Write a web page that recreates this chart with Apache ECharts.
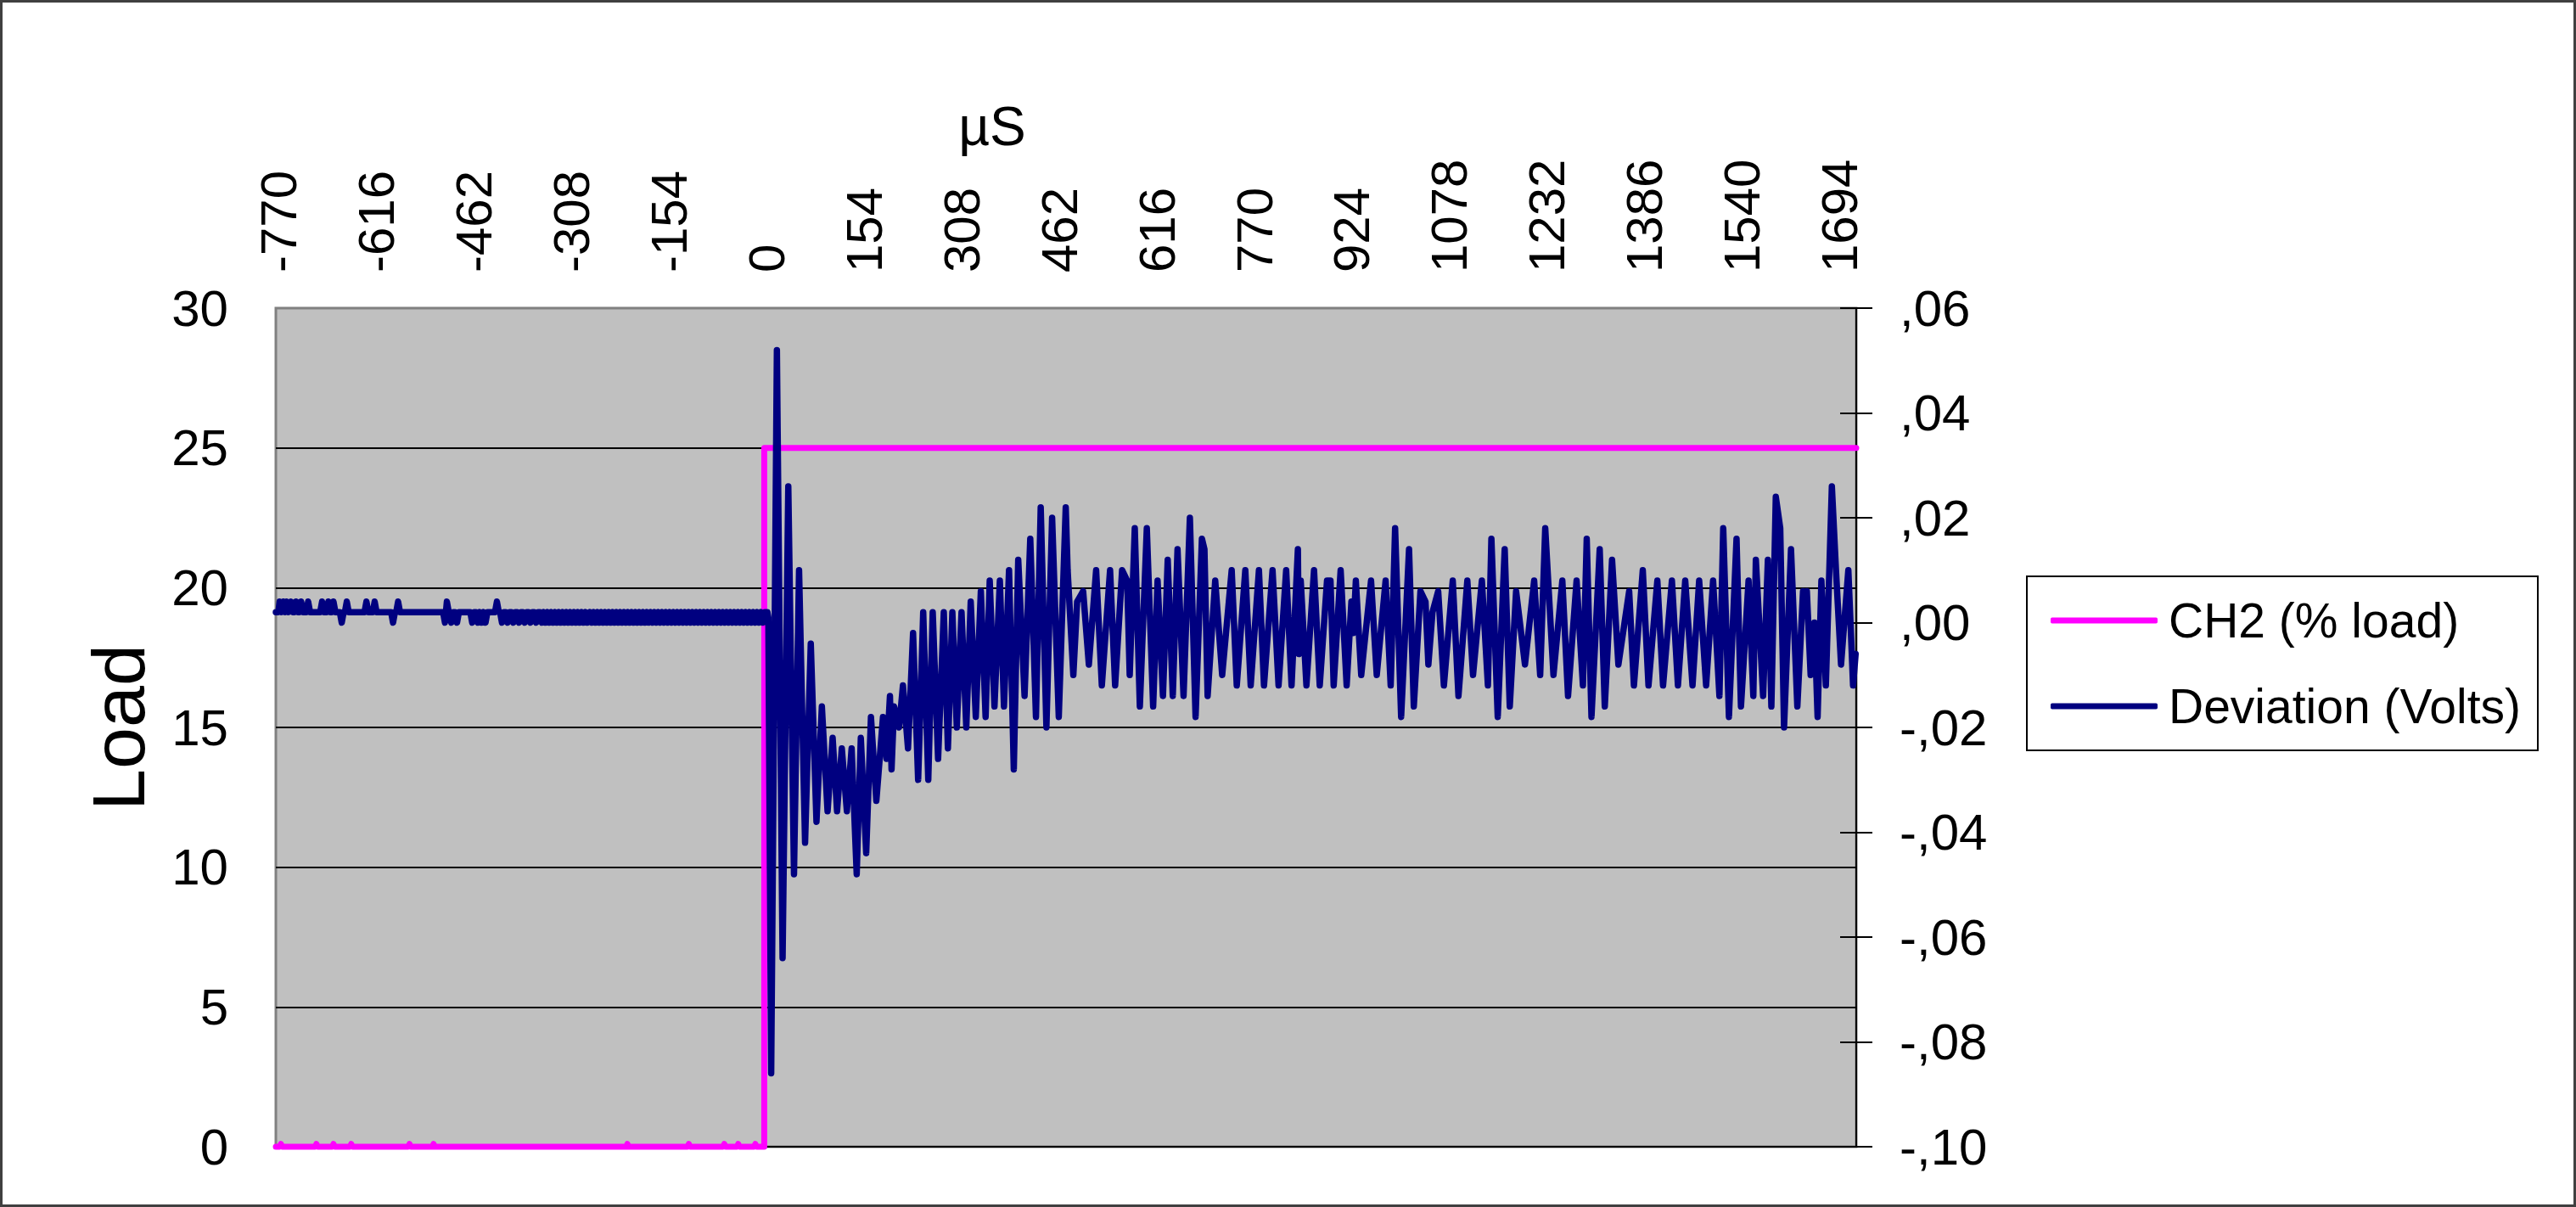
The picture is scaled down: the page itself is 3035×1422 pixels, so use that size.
<!DOCTYPE html>
<html>
<head>
<meta charset="utf-8">
<script src="https://cdn.jsdelivr.net/npm/echarts@6/dist/echarts.min.js"></script>
<style>
html,body{margin:0;padding:0;background:#fff;}
#chart{width:3035px;height:1422px;}
</style>
</head>
<body>
<div id="chart"></div>
<script>
// ---------- data ----------
// time axis in microseconds
const xTickValues = [-770,-616,-462,-308,-154,0,154,308,462,616,770,924,1078,1232,1386,1540,1694];
const voltLabels = ['-,10','-,08','-,06','-,04','-,02',',00',',02',',04',',06'];

// CH2 (% load): [time µs, load]
const ch2Load = [
  [-775,0],[-769,0],[-767,0.1],[-765,0],[-713,0],[-711,0.1],[-709,0],[-686,0],[-684,0.1],[-682,0],
  [-658,0],[-656,0.1],[-654,0],[-566,0],[-564,0.1],[-562,0],[-528,0],[-526,0.1],[-524,0],
  [-222,0],[-220,0.1],[-218,0],[-125,0],[-123,0.1],[-121,0],[-69,0],[-67,0.1],[-65,0],
  [-47,0],[-45,0.1],[-43,0],[-20,0],[-18,0.1],[-16,0],[-4,0],[-4,25],[1720,25]
];

// Deviation (Volts): [time µs, volts]
const deviationPre = [
  [-775,0.002],[-771,0.002],[-769,0.004],[-766,0.002],[-763,0.004],[-760,0.002],[-758,0.004],[-755,0.002],
  [-751,0.004],[-748,0.002],[-746,0.002],[-743,0.004],[-740,0.002],[-738,0.002],[-735,0.004],[-732,0.002],
  [-727,0.002],[-724,0.004],[-721,0.002],[-705,0.002],[-702,0.004],[-699,0.002],[-695,0.002],[-692,0.004],
  [-689,0.002],[-687,0.002],[-684,0.004],[-681,0.002],[-674,0.002],[-671,0],[-668,0.002],[-666,0.002],
  [-663,0.004],[-660,0.002],[-635,0.002],[-632,0.004],[-629,0.002],[-622,0.002],[-619,0.004],[-616,0.002],
  [-593,0.002],[-590,0],[-587,0.002],[-585,0.002],[-582,0.004],[-579,0.002],[-511,0.002],[-508,0],
  [-505,0.004],[-502,0.002],[-501,0.002],[-498,0],[-495,0.002],[-492,0.002],[-489,0],[-486,0.002],
  [-468,0.002],[-465,0],[-462,0.002],[-459,0.002],[-456,0],[-453,0.002],[-450,0],[-447,0.002],
  [-444,0],[-441,0.002],[-429,0.002],[-426,0.004],[-423,0.002],[-421,0.002],[-418,0],[-415,0.002],
  [-412,0.002],[-409,0],[-406,0.002],[-403,0.002],[-400,0],[-397,0.002],[-394,0.002],[-391,0],
  [-388,0.002],[-385,0.002],[-382,0],[-379,0.002],[-376,0.002],[-373,0],[-370,0.002],[-367,0.002],
  [-364,0],[-361,0.002],[-358,0.002],[-355,0],[-352,0.002],[-349,0],[-346,0.002],[-343,0],
  [-340,0.002],[-337,0],[-334,0.002],[-331,0],[-328,0.002],[-325,0],[-322,0.002],[-319,0],
  [-316,0.002],[-313,0],[-310,0.002],[-307,0],[-304,0.002],[-301,0],[-298,0.002],[-295,0],
  [-292,0.002],[-289,0],[-286,0.002],[-283,0]
];
const deviationDense = [
  [-279,0.002],[-276,0],[-273,0.002],[-270,0],[-267,0.002],[-264,0],[-261,0.002],[-258,0],
  [-255,0.002],[-252,0],[-249,0.002],[-246,0],[-243,0.002],[-240,0],[-237,0.002],[-234,0],
  [-231,0.002],[-228,0],[-225,0.002],[-222,0],[-219,0.002],[-216,0],[-213,0.002],[-210,0],
  [-207,0.002],[-204,0],[-201,0.002],[-198,0],[-195,0.002],[-192,0],[-189,0.002],[-186,0],
  [-183,0.002],[-180,0],[-177,0.002],[-174,0],[-171,0.002],[-168,0],[-165,0.002],[-162,0],
  [-159,0.002],[-156,0],[-153,0.002],[-150,0],[-147,0.002],[-144,0],[-141,0.002],[-138,0],
  [-135,0.002],[-132,0],[-129,0.002],[-126,0],[-123,0.002],[-120,0],[-117,0.002],[-114,0],
  [-111,0.002],[-108,0],[-105,0.002],[-102,0],[-99,0.002],[-96,0],[-93,0.002],[-90,0],
  [-87,0.002],[-84,0],[-81,0.002],[-78,0],[-75,0.002],[-72,0],[-69,0.002],[-66,0],
  [-63,0.002],[-60,0],[-57,0.002],[-54,0],[-51,0.002],[-48,0],[-45,0.002],[-42,0],
  [-39,0.002],[-36,0],[-33,0.002],[-30,0],[-27,0.002],[-24,0],[-21,0.002],[-18,0],
  [-15,0.002],[-12,0],[-9,0.002],[-6,0],[-3,0.002],[0,0.002]
];
const deviationPost = [
  [1,0.002],[2.5,0.001],[7,-0.086],[16,0.052],[25,-0.064],[34,0.026],[43,-0.048],[51,0.010],
  [60.5,-0.042],[69.5,-0.004],[78.5,-0.038],[87,-0.016],[96,-0.036],[104,-0.022],[111,-0.036],[118.5,-0.024],
  [126.5,-0.036],[134,-0.024],[142,-0.048],[148.5,-0.022],[157,-0.044],[164.5,-0.018],[173,-0.034],[183.5,-0.018],
  [189,-0.026],[194.5,-0.014],[197,-0.028],[201,-0.016],[209,-0.020],[215,-0.012],[223,-0.024],[231,-0.002],
  [239,-0.030],[247,0.002],[255,-0.030],[262,0.002],[270.5,-0.026],[279.5,0.002],[286,-0.024],[293,0.002],
  [300,-0.020],[307.5,0.002],[315,-0.020],[322,0.004],[330,-0.018],[338,0.006],[345.5,-0.018],[352,0.008],
  [359.5,-0.016],[368,0.008],[374.5,-0.016],[382.5,0.010],[390,-0.028],[397,0.012],[407,-0.014],[416,0.016],
  [425,-0.018],[432.5,0.022],[441.5,-0.020],[450.5,0.020],[461,-0.018],[472,0.022],[475,0.010],[484,-0.010],
  [490,0.004],[499.5,0.006],[508.5,-0.008],[520,0.010],[529,-0.012],[542,0.010],[550,-0.012],[561,0.010],
  [569,0.008],[573,-0.010],[581,0.018],[589,-0.016],[600,0.018],[610,-0.016],[617,0.008],[625.5,-0.014],
  [633,0.012],[641,-0.014],[648.5,0.014],[658,-0.014],[668,0.020],[677,-0.018],[687,0.016],[691,0.014],
  [696,-0.014],[708,0.008],[719,-0.010],[734,0.010],[742,-0.012],[755.5,0.010],[764,-0.012],[777,0.010],
  [785,-0.012],[798.5,0.010],[808,-0.012],[820,0.010],[828.5,-0.012],[838.5,0.014],[840,-0.006],[843,0.008],
  [852,-0.012],[864,0.010],[873,-0.012],[884.5,0.008],[890,0.008],[895,-0.012],[906,0.010],[915.5,-0.012],
  [923,0.004],[926,-0.002],[930,0.008],[938.5,-0.010],[954,0.008],[963,-0.010],[977,0.008],[985,-0.012],
  [992,0.018],[1001.5,-0.018],[1014,0.014],[1021.5,-0.016],[1032,0.006],[1040,0.004],[1044.5,-0.008],[1051,0.002],
  [1060,0.006],[1069,-0.012],[1083,0.008],[1092,-0.014],[1106,0.008],[1115,-0.010],[1129,0.008],[1138.5,-0.012],
  [1144,0.016],[1154,-0.018],[1165,0.014],[1173,-0.016],[1183,0.006],[1197,-0.008],[1211.5,0.008],[1221,-0.010],
  [1229,0.018],[1242,-0.010],[1256,0.008],[1265,-0.014],[1278.5,0.008],[1288.5,-0.012],[1294.5,0.016],[1302,-0.018],
  [1315,0.014],[1323,-0.016],[1334.5,0.012],[1344.5,-0.008],[1361.5,0.006],[1369,-0.012],[1383,0.010],[1392,-0.012],
  [1406,0.008],[1415,-0.012],[1429,0.008],[1438.5,-0.012],[1450,0.008],[1461.5,-0.012],[1472,0.008],[1483,-0.012],
  [1494,0.008],[1504,-0.014],[1510,0.018],[1519,-0.018],[1531,0.016],[1538,-0.016],[1550,0.008],[1557.5,-0.014],
  [1561.5,0.012],[1573,-0.014],[1580.5,0.012],[1586,-0.016],[1593,0.024],[1600,0.018],[1606,-0.020],[1617,0.014],
  [1627,-0.016],[1636,0.006],[1639,0.002],[1642,0.006],[1648,-0.010],[1654,0.000],[1659,-0.018],[1665,0.008],
  [1672,-0.012],[1681.5,0.026],[1688,0.010],[1696,-0.008],[1707.5,0.010],[1715,-0.012],[1719,-0.006]
];
const deviation = deviationPre.concat(deviationDense, deviationPost);

// ---------- chart ----------
const FONT = '"Liberation Sans", Arial, Helvetica, sans-serif';
const chart = echarts.init(document.getElementById('chart'), null, {renderer: 'svg', width: 3035, height: 1422});

const option = {
  animation: false,
  backgroundColor: '#ffffff',
  textStyle: {fontFamily: FONT, color: '#000'},
  grid: {
    left: 325, top: 363, width: 1862, height: 988,
    show: true, backgroundColor: '#C0C0C0', borderColor: '#808080', borderWidth: 3
  },
  xAxis: {
    type: 'value', position: 'top', min: -775, max: 1720,
    axisLine: {show: true, lineStyle: {color: '#000', width: 2}},
    axisTick: {show: false},
    splitLine: {show: false},
    axisLabel: {rotate: 90, margin: 42, fontSize: 60, color: '#000', fontFamily: FONT,
      customValues: xTickValues, formatter: function (v) { return String(v); }}
  },
  yAxis: [
    {
      type: 'value', position: 'left', min: 0, max: 30, interval: 5,
      axisLine: {show: false}, axisTick: {show: false},
      axisLabel: {fontSize: 60, color: '#000', margin: 56, fontFamily: FONT},
      splitLine: {show: true, showMinLine: false, showMaxLine: false, lineStyle: {color: '#000', width: 2}}
    },
    {
      type: 'value', position: 'right', min: -0.1, max: 0.06, interval: 0.02,
      axisLine: {show: true, lineStyle: {color: '#000', width: 2}},
      axisTick: {show: true, inside: false, length: 19, lineStyle: {color: '#000', width: 2}},
      axisLabel: {
        fontSize: 60, color: '#000', margin: 51, fontFamily: FONT,
        formatter: function (v) { return voltLabels[Math.round((v + 0.1) / 0.02)]; }
      },
      splitLine: {show: false}
    },
    {
      type: 'value', position: 'right', min: -0.1, max: 0.06, interval: 0.02,
      axisLine: {show: false},
      axisTick: {show: true, inside: true, length: 19, lineStyle: {color: '#000', width: 2}},
      axisLabel: {show: false},
      splitLine: {show: false}
    }
  ],
  legend: {
    orient: 'vertical', left: 2388, top: 679,
    padding: [22, 20, 22, 28], itemGap: 41, itemWidth: 126, itemHeight: 7,
    icon: 'roundRect',
    backgroundColor: '#ffffff', borderColor: '#000', borderWidth: 2, borderRadius: 0,
    textStyle: {fontSize: 57, color: '#000', lineHeight: 60, padding: [0, 0, 0, 8], fontFamily: FONT},
    data: ['CH2 (% load)', 'Deviation (Volts)']
  },
  series: [
    {
      name: 'CH2 (% load)', type: 'line', xAxisIndex: 0, yAxisIndex: 0,
      data: ch2Load, symbol: 'none', showSymbol: false, clip: false,
      color: '#FF00FF',
      lineStyle: {color: '#FF00FF', width: 7, cap: 'round', join: 'round'},
      itemStyle: {color: '#FF00FF'}
    },
    {
      name: 'Deviation (Volts)', type: 'line', xAxisIndex: 0, yAxisIndex: 1,
      data: deviation, symbol: 'none', showSymbol: false, clip: false,
      color: '#000080',
      lineStyle: {color: '#000080', width: 7.5, cap: 'round', join: 'round'},
      itemStyle: {color: '#000080'}
    }
  ],
  graphic: [
    {type: 'rect', silent: true, z: 100, shape: {x: 1.5, y: 1.5, width: 3032, height: 1419},
     style: {fill: 'none', stroke: '#404040', lineWidth: 3}},
    {type: 'text', x: 1169, y: 149, style: {text: 'µS', font: '64px ' + FONT, fill: '#000',
      textAlign: 'center', textVerticalAlign: 'middle', align: 'center', verticalAlign: 'middle'}},
    {type: 'text', x: 139, y: 857, rotation: Math.PI / 2, style: {text: 'Load', font: '88px ' + FONT, fill: '#000',
      textAlign: 'center', textVerticalAlign: 'middle', align: 'center', verticalAlign: 'middle'}}
  ]
};
chart.setOption(option);
</script>
</body>
</html>
